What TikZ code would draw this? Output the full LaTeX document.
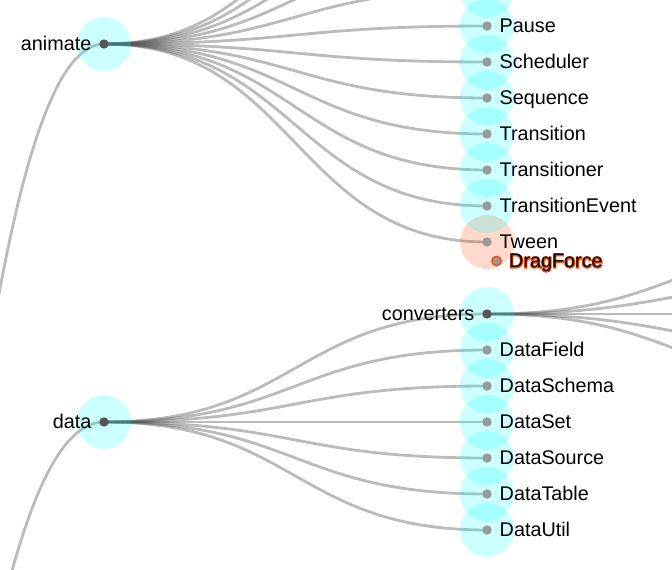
\documentclass[tikz,border=0pt]{standalone}
\usepackage{fontspec}
\setmainfont{Liberation Sans}
\newfontfamily\haloface[FakeBold=8]{Liberation Sans}
\usetikzlibrary{calc}

\definecolor{nodedark}{HTML}{555555}
\definecolor{nodelight}{HTML}{999999}
\definecolor{hotred}{HTML}{FF4500}
\definecolor{ghostcyan}{HTML}{00FFFF}

\tikzset{
  link/.style={draw=nodedark, draw opacity=0.4, line width=2.8pt},
  ghost/.style={fill=ghostcyan, fill opacity=0.2},
  dot/.style={circle, fill=nodelight, minimum size=9.4pt, inner sep=0pt},
  lbl/.style={inner sep=0pt, font=\fontsize{19.8}{23}\selectfont},
}
% horizontal diagonal from node to node
\newcommand{\treelink}[2]{%
  \draw[link] let \p1=(#1), \p2=(#2) in
    (\p1) .. controls ({(\x1+\x2)/2},\y1) and ({(\x1+\x2)/2},\y2) .. (\p2);}

\begin{document}
\begin{tikzpicture}[x=1pt,y=-1pt]
\useasboundingbox (0,0) rectangle (672,570);
\clip (0,0) rectangle (672,570);

% tree positions
\coordinate (flare) at (-279,1960);
\coordinate (animate) at (104,44);
\coordinate (data) at (104,422);
\foreach \nm [count=\i] in {Easing,FunctionSequence,interpolate,ISchedulable,Parallel,Pause,Scheduler,Sequence,Transition,Transitioner,TransitionEvent,Tween}
  \coordinate (\nm) at (487,{36*\i-190});
\foreach \nm [count=\i] in {converters,DataField,DataSchema,DataSet,DataSource,DataTable,DataUtil}
  \coordinate (\nm) at (487,{36*\i+278});
\foreach \i in {1,...,5}
  \coordinate (conv\i) at (870,{36*\i+206});
\coordinate (DragForce) at (496.5,261);

% links
\treelink{flare}{animate}
\treelink{flare}{data}
\foreach \nm in {Easing,FunctionSequence,interpolate,ISchedulable,Parallel,Pause,Scheduler,Sequence,Transition,Transitioner,TransitionEvent,Tween}
  {\treelink{animate}{\nm}}
\foreach \nm in {converters,DataField,DataSchema,DataSet,DataSource,DataTable,DataUtil}
  {\treelink{data}{\nm}}
\foreach \k in {1,...,5}
  {\treelink{converters}{conv\k}}

% ghost circles
\fill[hotred, fill opacity=0.2] (Tween) circle (27);
\foreach \nm in {animate,data,Easing,FunctionSequence,interpolate,ISchedulable,Parallel,Pause,Scheduler,Sequence,Transition,Transitioner,TransitionEvent,converters,DataField,DataSchema,DataSet,DataSource,DataTable,DataUtil}
  \fill[ghost] (\nm) circle (27);

% dots
\foreach \nm in {animate,data,interpolate,converters}
  \node[dot, fill=nodedark] (\nm-dot) at (\nm) {};
\foreach \nm in {Easing,FunctionSequence,ISchedulable,Parallel,Pause,Scheduler,Sequence,Transition,Transitioner,TransitionEvent,Tween,DataField,DataSchema,DataSet,DataSource,DataTable,DataUtil}
  \node[dot] (\nm-dot) at (\nm) {};

% labels
\foreach \nm in {animate,data,converters}
  \node[lbl, anchor=base east] (\nm-text) at ([xshift=-12.5pt,yshift=-6.8pt]\nm) {\nm};
\foreach \nm in {Pause,Scheduler,Sequence,Transition,Transitioner,TransitionEvent,Tween,DataField,DataSchema,DataSet,DataSource,DataTable,DataUtil}
  \node[lbl, anchor=base west] (\nm-text) at ([xshift=12.5pt,yshift=-6.8pt]\nm) {\nm};

% dragged node
\node[dot, draw=hotred, line width=1.3pt] (DragForce-dot) at (DragForce) {};
\node[lbl, anchor=base west, text=hotred] (DragForce-halo) at ([xshift=12.5pt,yshift=-6.8pt]DragForce) {\haloface DragForce};
\node[lbl, anchor=base west] (DragForce-text) at ([xshift=12.5pt,yshift=-6.8pt]DragForce) {DragForce};
\end{tikzpicture}
\end{document}
